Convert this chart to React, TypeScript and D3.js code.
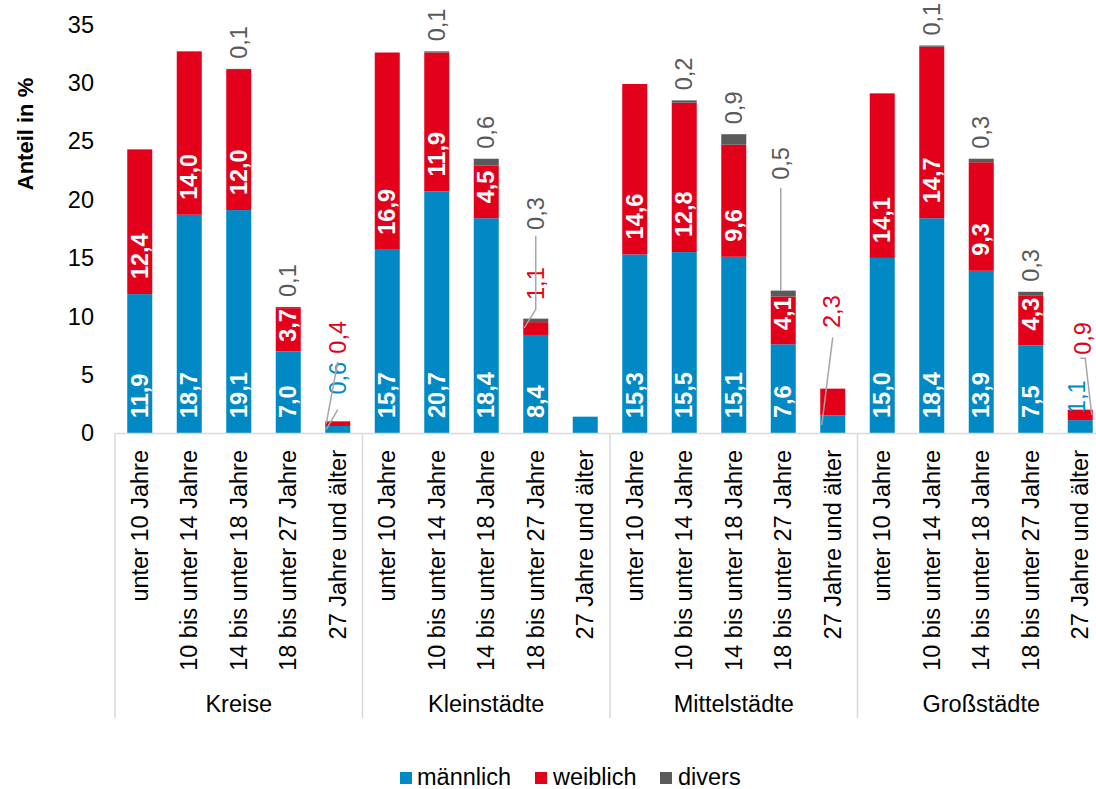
import React from "react";
import * as d3 from "d3";

const groups = ["Kreise", "Kleinstädte", "Mittelstädte", "Großstädte"];
const ageClasses = [
  "unter 10 Jahre",
  "10 bis unter 14 Jahre",
  "14 bis unter 18 Jahre",
  "18 bis unter 27 Jahre",
  "27 Jahre und älter",
];
const maennlich = [11.9, 18.7, 19.1, 7.0, 0.6, 15.7, 20.7, 18.4, 8.4, 1.4, 15.3, 15.5, 15.1, 7.6, 1.5, 15.0, 18.4, 13.9, 7.5, 1.1];
const weiblich = [12.4, 14.0, 12.0, 3.7, 0.4, 16.9, 11.9, 4.5, 1.1, 0, 14.6, 12.8, 9.6, 4.1, 2.3, 14.1, 14.7, 9.3, 4.3, 0.9];
const divers = [0, 0, 0.1, 0.1, 0, 0, 0.1, 0.6, 0.3, 0, 0, 0.2, 0.9, 0.5, 0, 0, 0.1, 0.3, 0.3, 0];
const seriesKeys = ["m", "w", "d"];
const seriesNames = ["männlich", "weiblich", "divers"];
const yTicks = [0, 5, 10, 15, 20, 25, 30, 35];
// labels not shown in the original
const hiddenLabels: [number, string][] = [[9, "m"], [14, "m"]];
// labels placed outside with leader lines: at = label start (value units)
const callouts = [
  { bar: 4, s: "m", at: 3.3, dx: 0, line: [[0, 2.0], [-11.5, null]] },
  { bar: 4, s: "w", at: 6.8, dx: 0, line: [[0, 6.1], [-11.5, null]] },
  { bar: 8, s: "w", at: 11.4, dx: 0, line: [] },
  { bar: 8, s: "d", at: 17.4, dx: 0, line: [[0, 16.9], [0, 10.6], [-11.5, 9.0]] },
  { bar: 13, s: "d", at: 21.7, dx: -2, line: [[-2.5, 21.0], [-2.5, 12.2]] },
  { bar: 14, s: "w", at: 9.0, dx: -1, line: [[0, 8.2], [-11, 0.7]] },
  { bar: 19, s: "m", at: 1.7, dx: -3, line: [] },
  { bar: 19, s: "w", at: 6.7, dx: 3, line: [[0, 6.4], [5, 6.4], [11.5, null]] },
];

const colors: Record<string, string> = { m: "#0089c4", w: "#e3001b", d: "#5a5a5a" };
const labelGray = "#595959";
const FONT = "'Liberation Sans', Arial, Helvetica, sans-serif";

const W = 1096;
const H = 789;
const x0 = 115;
const groupW = 247.5;
const yBase = 433;
const yTop = 24.5;

const fmt = (v: number) => d3.format(".1f")(v).replace(".", ",");

export default function App() {
  const rows = maennlich.map((m, i) => ({ i, m, w: weiblich[i], d: divers[i] }));
  const nBars = rows.length;
  const x = d3
    .scaleBand<number>()
    .domain(d3.range(nBars))
    .range([x0, x0 + groupW * groups.length])
    .paddingInner(0.495)
    .paddingOuter(0.2475);
  const y = d3.scaleLinear().domain([0, 35]).range([yBase, yTop]);
  const stack = d3.stack<any>().keys(seriesKeys)(rows);
  const bw = x.bandwidth();

  const isHidden = (i: number, s: string) =>
    hiddenLabels.some(([b, k]) => b === i && k === s) || callouts.some((c) => c.bar === i && c.s === s);

  const labelFontSize = 23.5;
  const approxWidth = (t: string, size: number) =>
    t.split("").reduce((a, ch) => a + (ch === "," ? 0.278 : 0.556), 0) * size;

  const elements: JSX.Element[] = [];

  stack.forEach((layer) => {
    const key = layer.key;
    layer.forEach((seg, i) => {
      const v = rows[i][key as "m" | "w" | "d"];
      if (!v) return;
      const yt = y(seg[1]);
      const yb = y(seg[0]);
      elements.push(
        <rect key={`r-${key}-${i}`} x={x(i)} y={yt} width={bw} height={Math.max(0, yb - yt)} fill={colors[key]} />
      );
    });
  });

  const labels: JSX.Element[] = [];
  stack.forEach((layer) => {
    const key = layer.key;
    layer.forEach((seg, i) => {
      const v = rows[i][key as "m" | "w" | "d"];
      if (!v || isHidden(i, key)) return;
      const cx = (x(i) as number) + bw / 2;
      const yt = y(seg[1]);
      const yb = y(seg[0]);
      const txt = fmt(v);
      if (key === "d") {
        labels.push(
          <text
            key={`l-${key}-${i}`}
            transform={`translate(${cx},${yt - 10}) rotate(-90)`}
            textAnchor="start"
            dy="0.35em"
            fontSize={labelFontSize}
            fill={labelGray}
          >
            {txt}
          </text>
        );
      } else {
        const len = approxWidth(txt, labelFontSize);
        const fitsBase = len + 16 <= yb - yt;
        const ly = fitsBase ? yb - 15 : yt + 1;
        labels.push(
          <text
            key={`l-${key}-${i}`}
            transform={`translate(${cx},${ly}) rotate(-90)`}
            textAnchor={fitsBase ? "start" : "end"}
            dy="0.35em"
            fontSize={labelFontSize}
            fontWeight="bold"
            fill="#ffffff"
          >
            {txt}
          </text>
        );
      }
    });
  });

  const calloutEls: JSX.Element[] = [];
  callouts.forEach((c, k) => {
    const layer = stack.find((l) => l.key === c.s)!;
    const seg = layer[c.bar];
    const v = rows[c.bar][c.s as "m" | "w" | "d"];
    const cx = (x(c.bar) as number) + bw / 2;
    const segMid = (y(seg[0]) + y(seg[1])) / 2;
    if (c.line.length) {
      const pts = c.line.map(([dx, val]) => [cx + (dx as number), val == null ? segMid : y(val as number)]);
      calloutEls.push(
        <polyline
          key={`cl-${k}`}
          points={pts.map((p) => p.join(",")).join(" ")}
          fill="none"
          stroke="#a6a6a6"
          strokeWidth={1.5}
        />
      );
    }
    calloutEls.push(
      <text
        key={`ct-${k}`}
        transform={`translate(${cx + c.dx},${y(c.at)}) rotate(-90)`}
        textAnchor="start"
        dy="0.35em"
        fontSize={labelFontSize}
        fill={c.s === "d" ? labelGray : colors[c.s]}
      >
        {fmt(v)}
      </text>
    );
  });

  const sepBottom = 718;
  const legendItems = [
    { key: "m", sx: 400, tx: 417 },
    { key: "w", sx: 535, tx: 553 },
    { key: "d", sx: 660, tx: 678 },
  ];

  return (
    <svg
      width={W}
      height={H}
      viewBox={`0 0 ${W} ${H}`}
      style={{ position: "absolute", left: 0, top: 0, background: "#fff" }}
      fontFamily={FONT}
    >
      <rect x={0} y={0} width={W} height={H} fill="#fff" />
      {/* y axis ticks */}
      {yTicks.map((t) => (
        <text key={`yt-${t}`} x={94} y={y(t)} dy="0.35em" textAnchor="end" fontSize={23.5} fill="#000">
          {t}
        </text>
      ))}
      <text
        transform={`translate(25,134) rotate(-90)`}
        textAnchor="middle"
        dy="0.35em"
        fontSize={22}
        fontWeight="bold"
        fill="#000"
      >
        Anteil in %
      </text>
      {elements}
      {/* axis line */}
      <line x1={x0} x2={x0 + groupW * groups.length} y1={yBase + 0.5} y2={yBase + 0.5} stroke="#d9d9d9" strokeWidth={1.5} />
      {d3.range(groups.length + 1).map((g) => (
        <line
          key={`sep-${g}`}
          x1={x0 + g * groupW}
          x2={x0 + g * groupW}
          y1={yBase}
          y2={sepBottom}
          stroke="#d9d9d9"
          strokeWidth={1.5}
        />
      ))}
      {labels}
      {calloutEls}
      {/* category labels */}
      {rows.map((r) => (
        <text
          key={`cat-${r.i}`}
          transform={`translate(${(x(r.i) as number) + bw / 2},${450}) rotate(-90)`}
          textAnchor="end"
          dy="0.35em"
          fontSize={23.5}
          fill="#000"
        >
          {ageClasses[r.i % ageClasses.length]}
        </text>
      ))}
      {groups.map((g, gi) => (
        <text key={`g-${g}`} x={x0 + gi * groupW + groupW / 2} y={712} textAnchor="middle" fontSize={23.5} fill="#000">
          {g}
        </text>
      ))}
      {/* legend */}
      {legendItems.map((it, k) => (
        <g key={`lg-${it.key}`}>
          <rect x={it.sx} y={772} width={12} height={12} fill={colors[it.key]} />
          <text x={it.tx} y={785} fontSize={23.5} fill="#000">
            {seriesNames[k]}
          </text>
        </g>
      ))}
    </svg>
  );
}
